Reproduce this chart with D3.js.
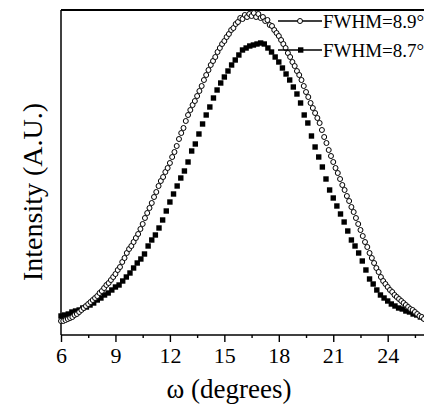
<!DOCTYPE html>
<html>
<head>
<meta charset="utf-8">
<title>Rocking curves</title>
<script src="https://d3js.org/d3.v7.min.js"></script>
<style>
body { margin: 0; padding: 0; background: #fff; }
svg { display: block; font-family: "Liberation Serif", "DejaVu Serif", serif; }
</style>
</head>
<body>
<div id="chart"></div>
<script>

// omega grid (degrees) for each scan
var omegaOpen = d3.range(6, 26.0001, 0.125);
var omegaFilled = d3.range(6, 26.0001, 0.2);

// intensity, arbitrary units
var openVals = [
  14,14,15,16,17,18,20,21,
  23,25,27,29,31,33,35,37,
  39,42,44,47,50,52,55,58,
  61,65,68,73,77,82,86,89,
  93,97,101,106,111,117,122,127,
  132,138,143,149,154,158,163,167,
  172,178,183,189,196,202,207,214,
  220,225,230,234,239,244,249,255,
  260,265,270,274,278,283,287,291,
  294,298,301,305,307,311,313,317,
  316,320,318,321,319,322,318,321,
  317,318,314,315,310,309,305,302,
  299,295,291,287,282,278,273,269,
  264,260,255,249,243,238,232,227,
  222,217,212,205,198,192,185,179,
  173,167,162,156,150,145,139,134,
  128,123,117,111,105,99,93,88,
  82,77,72,67,63,58,54,51,
  48,45,43,40,38,36,34,32,
  30,28,26,25,23,21,19,18,
  16];

var filledVals = [
  19,20,21,23,24,
  25,27,28,30,32,
  35,37,40,42,45,
  48,50,54,58,62,
  67,72,76,81,89,
  95,100,107,115,124,
  133,141,149,157,164,
  173,184,191,201,211,
  220,228,237,245,252,
  258,264,270,275,280,
  285,287,289,290,291,
  292,291,287,283,278,
  273,267,261,255,248,
  241,232,220,212,199,
  188,178,168,156,145,
  137,129,121,113,104,
  95,89,82,74,65,
  56,51,45,40,37,
  34,31,29,27,26,
  24,23,21,20,18,
  17];

var xTicks = [6, 9, 12, 15, 18, 21, 24];
var legendLabels = ["FWHM=8.9\u00b0", "FWHM=8.7\u00b0"];

var W = 424, H = 404;
var mLeft = 61, mTop = 10, mBottom = 335;

var svg = d3.select("#chart").append("svg")
    .attr("width", W).attr("height", H);

var x = d3.scaleLinear().domain([6, 26]).range([mLeft, 424]);
var y = d3.scaleLinear().domain([0, 325]).range([mBottom, mTop]);

var openData = omegaOpen.map(function(d, i) { return [d, openVals[i]]; });
var filledData = omegaFilled.map(function(d, i) { return [d, filledVals[i]]; });

// frame
svg.append("line").attr("x1", mLeft).attr("x2", W).attr("y1", mTop).attr("y2", mTop)
  .attr("stroke", "#000").attr("stroke-width", 1.8);
svg.append("line").attr("x1", mLeft).attr("x2", mLeft).attr("y1", mTop).attr("y2", mBottom)
  .attr("stroke", "#000").attr("stroke-width", 1.5);

// x axis, major + minor ticks
var gx = svg.append("g").attr("transform", "translate(0," + mBottom + ")");
gx.append("g").call(d3.axisBottom(x).tickValues(d3.range(7.5, 26, 3)).tickSize(3).tickFormat(""));
gx.append("g").call(d3.axisBottom(x).tickValues(xTicks).tickSize(7).tickPadding(5));
gx.selectAll(".domain").remove();
gx.selectAll("line").attr("stroke", "#000").attr("stroke-width", 1.4);
gx.selectAll("text").attr("font-size", 22).attr("fill", "#000")
  .attr("font-family", "Liberation Serif, serif");
svg.append("line").attr("x1", mLeft).attr("x2", W).attr("y1", mBottom).attr("y2", mBottom)
  .attr("stroke", "#000").attr("stroke-width", 1.5);

// filled squares
svg.append("g").selectAll("rect").data(filledData).enter().append("rect")
  .attr("x", function(d) { return x(d[0]) - 2.7; })
  .attr("y", function(d) { return y(d[1]) - 2.7; })
  .attr("width", 5.4).attr("height", 5.4)
  .attr("fill", "#000");

// open circles
svg.append("g").selectAll("circle").data(openData).enter().append("circle")
  .attr("cx", function(d) { return x(d[0]); })
  .attr("cy", function(d) { return y(d[1]); })
  .attr("r", 2.5)
  .attr("fill", "#fff").attr("stroke", "#000").attr("stroke-width", 1);

// legend
var lg = [{y: 21, label: legendLabels[0], sym: "circle"},
          {y: 50, label: legendLabels[1], sym: "square"}];
lg.forEach(function(l) {
  svg.append("line").attr("x1", 278).attr("x2", 322).attr("y1", l.y).attr("y2", l.y)
    .attr("stroke", "#000").attr("stroke-width", 1.3);
  if (l.sym == "circle") {
    svg.append("circle").attr("cx", 300).attr("cy", l.y).attr("r", 2.5)
      .attr("fill", "#fff").attr("stroke", "#000").attr("stroke-width", 1);
  } else {
    svg.append("rect").attr("x", 298).attr("y", l.y - 2.7).attr("width", 5.4).attr("height", 5.4)
      .attr("fill", "#000");
  }
  svg.append("text").attr("x", 323).attr("y", l.y + 6.5)
    .attr("font-size", 19).attr("fill", "#000").text(l.label);
});

// axis titles
svg.append("text").attr("x", 229).attr("y", 398)
  .attr("text-anchor", "middle").attr("font-size", 27)
  .text("\u03c9 (degrees)");
svg.append("text")
  .attr("transform", "translate(42,192) rotate(-90)")
  .attr("text-anchor", "middle").attr("font-size", 28)
  .text("Intensity (A.U.)");

</script>
</body>
</html>
